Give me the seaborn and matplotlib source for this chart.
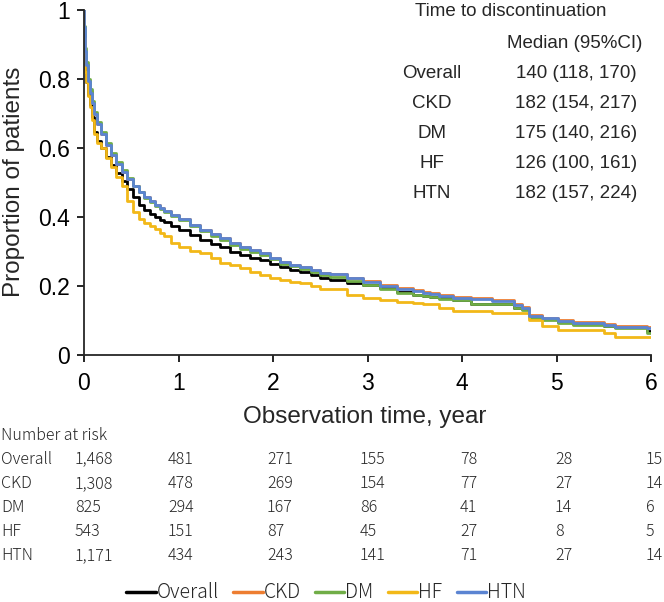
import numpy as np
import pandas as pd
import seaborn as sns
import matplotlib
matplotlib.use("Agg")
import matplotlib.pyplot as plt

# survival (years, proportion still on treatment)
time_yr = [0, 0.005, 0.01, 0.015, 0.025, 0.04, 0.06, 0.08, 0.11, 0.14, 0.18, 0.23,
           0.29, 0.34, 0.4, 0.46, 0.52, 0.58, 0.64, 0.7, 0.75, 0.8, 0.85, 0.92,
           1.0, 1.12, 1.23, 1.34, 1.44, 1.55, 1.65, 1.76, 1.86, 1.97, 2.07, 2.18,
           2.29, 2.4, 2.5, 2.6, 2.78, 2.95, 3.13, 3.31, 3.48, 3.59, 3.66, 3.76,
           3.9, 4.09, 4.32, 4.55, 4.64, 4.71, 4.85, 5.02, 5.17, 5.5, 5.62, 5.96, 6.0]

overall = [1, 0.93, 0.88, 0.83, 0.79, 0.755, 0.725, 0.69, 0.645, 0.62, 0.60, 0.575,
           0.55, 0.527, 0.505, 0.48, 0.458, 0.436, 0.42, 0.41, 0.40, 0.392, 0.385, 0.374,
           0.363, 0.348, 0.333, 0.322, 0.313, 0.30, 0.29, 0.282, 0.275, 0.263, 0.255, 0.247,
           0.24, 0.231, 0.223, 0.217, 0.21, 0.203, 0.193, 0.183, 0.175, 0.171, 0.168, 0.165,
           0.16, 0.148, 0.148, 0.136, 0.133, 0.113, 0.105, 0.097, 0.09, 0.085, 0.08, 0.07, 0.07]
ckd = [1, 0.95, 0.92, 0.88, 0.84, 0.795, 0.765, 0.73, 0.70, 0.67, 0.64, 0.61,
       0.58, 0.555, 0.53, 0.51, 0.49, 0.473, 0.458, 0.445, 0.435, 0.426, 0.418, 0.406,
       0.395, 0.378, 0.362, 0.35, 0.339, 0.325, 0.313, 0.304, 0.295, 0.282, 0.27, 0.262,
       0.255, 0.246, 0.238, 0.236, 0.224, 0.214, 0.202, 0.193, 0.187, 0.182, 0.179, 0.174,
       0.167, 0.164, 0.158, 0.147, 0.138, 0.115, 0.108, 0.102, 0.095, 0.09, 0.083, 0.08, 0.08]
dm = [1, 0.955, 0.925, 0.89, 0.85, 0.80, 0.77, 0.735, 0.705, 0.675, 0.645, 0.615,
      0.585, 0.56, 0.535, 0.512, 0.49, 0.472, 0.456, 0.443, 0.432, 0.423, 0.415, 0.403,
      0.392, 0.375, 0.358, 0.346, 0.334, 0.32, 0.308, 0.298, 0.29, 0.277, 0.265, 0.257,
      0.25, 0.24, 0.232, 0.226, 0.214, 0.203, 0.192, 0.18, 0.174, 0.171, 0.168, 0.163,
      0.158, 0.148, 0.148, 0.136, 0.13, 0.107, 0.101, 0.094, 0.087, 0.083, 0.078, 0.064, 0.064]
hf = [1, 0.92, 0.87, 0.82, 0.79, 0.75, 0.72, 0.68, 0.64, 0.615, 0.60, 0.57,
      0.545, 0.515, 0.49, 0.445, 0.415, 0.395, 0.383, 0.373, 0.365, 0.354, 0.345, 0.325,
      0.312, 0.302, 0.296, 0.28, 0.267, 0.26, 0.252, 0.242, 0.232, 0.224, 0.217, 0.213,
      0.209, 0.2, 0.191, 0.191, 0.174, 0.165, 0.16, 0.154, 0.151, 0.148, 0.148, 0.136,
      0.128, 0.128, 0.122, 0.122, 0.122, 0.101, 0.084, 0.072, 0.072, 0.064, 0.052, 0.052, 0.052]
htn = [1, 0.95, 0.92, 0.88, 0.84, 0.795, 0.76, 0.73, 0.70, 0.67, 0.64, 0.61,
       0.58, 0.555, 0.53, 0.51, 0.49, 0.473, 0.458, 0.445, 0.435, 0.426, 0.418, 0.406,
       0.395, 0.378, 0.362, 0.35, 0.339, 0.325, 0.313, 0.304, 0.295, 0.282, 0.27, 0.262,
       0.255, 0.246, 0.238, 0.235, 0.222, 0.212, 0.2, 0.191, 0.185, 0.18, 0.177, 0.172,
       0.165, 0.162, 0.156, 0.145, 0.136, 0.113, 0.106, 0.1, 0.093, 0.088, 0.081, 0.078, 0.078]

groups = ["Overall", "CKD", "DM", "HF", "HTN"]
colors = ["#000000", "#ED7D31", "#70AD47", "#F2B818", "#5B84D2"]

medians = ["140 (118, 170)", "182 (154, 217)", "175 (140, 216)",
           "126 (100, 161)", "182 (157, 224)"]

at_risk = {
    "Overall": ["1,468", "481", "271", "155", "78", "28", "15"],
    "CKD": ["1,308", "478", "269", "154", "77", "27", "14"],
    "DM": ["825", "294", "167", "86", "41", "14", "6"],
    "HF": ["543", "151", "87", "45", "27", "8", "5"],
    "HTN": ["1,171", "434", "243", "141", "71", "27", "14"],
}

curves = {"Overall": overall, "CKD": ckd, "DM": dm, "HF": hf, "HTN": htn}
df = pd.concat(
    [pd.DataFrame({"time": time_yr, "surv": curves[g], "group": g}) for g in groups],
    ignore_index=True)

sns.set_style("ticks")
plt.rcParams["font.family"] = ["Liberation Sans", "DejaVu Sans"]

W, H = 664, 602
fig = plt.figure(figsize=(W / 100, H / 100), dpi=100)
ax = fig.add_axes([84 / W, 1 - 355 / H, (651 - 84) / W, (355 - 10) / H])


def px(x, y):
    return x / W, 1 - y / H


sns.lineplot(data=df, x="time", y="surv", hue="group", hue_order=groups,
             palette=colors, drawstyle="steps-post", linewidth=2,
             errorbar=None, estimator=None, ax=ax, legend=False)

ax.set_xlim(0, 6)
ax.set_ylim(0, 1)
ax.set_xticks(range(7))
ax.set_yticks([0, 0.2, 0.4, 0.6, 0.8, 1])
ax.set_yticklabels(["0", "0.2", "0.4", "0.6", "0.8", "1"])
ax.tick_params(labelsize=16.5, length=5, width=1.2, colors="black")
ax.tick_params(axis="x", pad=7)
ax.tick_params(axis="y", pad=5)
for s in ["left", "bottom"]:
    ax.spines[s].set_linewidth(1.3)
sns.despine(ax=ax)
ax.set_xlabel("")
ax.set_ylabel("")
fig.text(*px(14, 182), "Proportion of patients", rotation=90,
         ha="center", va="center", fontsize=17.5)
fig.text(*px(365, 417), "Observation time, year", ha="center", va="center", fontsize=17.5)

# median table
fig.text(*px(511, 11), "Time to discontinuation", ha="center", va="center", fontsize=13.5)
fig.text(*px(575, 43), "Median (95%CI)", ha="center", va="center", fontsize=13.5)
for i, (g, m) in enumerate(zip(groups, medians)):
    y = 73 + i * 30.2
    fig.text(*px(432, y), g, ha="center", va="center", fontsize=13.5)
    fig.text(*px(576, y), m, ha="center", va="center", fontsize=13.5)

# number at risk table
tfont = ["Noto Sans CJK JP", "DejaVu Sans"]
risk_x = [75, 168, 267, 360, 460, 555, 646]
fig.text(*px(1, 435), "Number at risk", ha="left", va="center", fontsize=11.5,
         family=tfont, weight="light")
for i, g in enumerate(groups):
    y = 459 + i * 24.2
    fig.text(*px(1, y), g, ha="left", va="center", fontsize=11.5, family=tfont, weight="light")
    for xp, v in zip(risk_x, at_risk[g]):
        fig.text(*px(xp, y), v, ha="left", va="center", fontsize=11.5,
                 family=tfont, weight="light")

handles = [plt.Line2D([], [], color=c, linewidth=2.5) for c in colors]
fig.legend(handles, groups, loc="center", bbox_to_anchor=px(326, 593), ncol=5,
           frameon=False, handlelength=1.5, handletextpad=0.05, columnspacing=0.75,
           prop={"family": tfont, "size": 14, "weight": "light"})

fig.savefig("out.png", dpi=100)
